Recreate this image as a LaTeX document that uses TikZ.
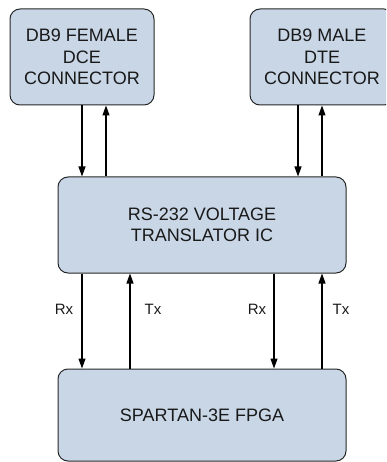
\documentclass[tikz,border=0pt]{standalone}
\usepackage{fontspec}
\setmainfont{Liberation Sans}
\usetikzlibrary{arrows.meta}
\definecolor{boxfill}{RGB}{200,214,230}
\definecolor{boxline}{RGB}{40,40,40}
\definecolor{txt}{RGB}{25,25,25}
\begin{document}
\begin{tikzpicture}[x=1pt,y=-1pt,
  blk/.style={draw=boxline, line width=1pt, fill=boxfill, rounded corners=10pt,
    inner sep=0pt, align=center, text=txt, font=\fontsize{18}{21.5}\selectfont},
  arr/.style={line width=1.2pt, draw=black, -{Triangle[length=10pt,width=7pt]}},
  lbl/.style={text=txt, font=\fontsize{15}{18}\selectfont, inner sep=0pt}]
\useasboundingbox (0,0) rectangle (386,462);
\clip (0,0) rectangle (386,462);
\node[blk, minimum width=144pt, minimum height=96pt] (dce) at (82,57) {DB9 FEMALE\\DCE\\CONNECTOR};
\node[blk, minimum width=144pt, minimum height=96pt] (dte) at (322,57) {DB9 MALE\\DTE\\CONNECTOR};
\node[blk, minimum width=288pt, minimum height=96pt] (ic) at (202,225) {RS-232 VOLTAGE\\TRANSLATOR IC};
\node[blk, minimum width=288pt, minimum height=92pt] (fpga) at (202,415) {SPARTAN-3E FPGA};
\coordinate (a1) at (82,0);
\coordinate (a2) at (106,0);
\coordinate (a3) at (298,0);
\coordinate (a4) at (322,0);
\coordinate (b1) at (82,0);
\coordinate (b2) at (130,0);
\coordinate (b3) at (274,0);
\coordinate (b4) at (322,0);
\draw[arr] (dce.south -| a1) -- (ic.north -| a1);
\draw[arr] (ic.north -| a2) -- (dce.south -| a2);
\draw[arr] (dte.south -| a3) -- (ic.north -| a3);
\draw[arr] (ic.north -| a4) -- (dte.south -| a4);
\draw[arr] (ic.south -| b1) -- (fpga.north -| b1);
\draw[arr] (fpga.north -| b2) -- (ic.south -| b2);
\draw[arr] (ic.south -| b3) -- (fpga.north -| b3);
\draw[arr] (fpga.north -| b4) -- (ic.south -| b4);
\node[lbl] (rx1) at (64,309) {Rx};
\node[lbl] (tx1) at (153,309) {Tx};
\node[lbl] (rx2) at (257,309) {Rx};
\node[lbl] (tx2) at (341,309) {Tx};
\end{tikzpicture}
\end{document}
